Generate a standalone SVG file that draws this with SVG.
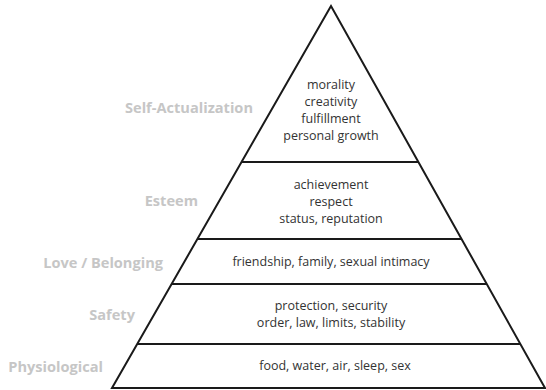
<svg xmlns="http://www.w3.org/2000/svg" width="546" height="390" viewBox="0 0 546 390">
<style>
.edge{fill:none;stroke:#1a1a1a;stroke-width:2;stroke-linejoin:miter}
.div{stroke:#1a1a1a;stroke-width:2}
.lbl{font-family:"Open Sans","Noto Sans",sans-serif;font-weight:bold;font-size:14.6px;fill:#c6c6c6;text-anchor:end}
.txt{font-family:"Open Sans","Noto Sans",sans-serif;font-size:12.5px;fill:#333;text-anchor:middle}
</style>
<rect width="546" height="390" fill="#fff"/>
<g id="connectors">
<polygon class="edge" points="331,6 112,388 545,388"/>
<line class="div" x1="241.6" y1="162" x2="418.4" y2="162"/>
<line class="div" x1="197.4" y1="239" x2="461.5" y2="239"/>
<line class="div" x1="171.6" y1="284" x2="486.7" y2="284"/>
<line class="div" x1="137.2" y1="344" x2="520.3" y2="344"/>
</g>
<g id="self-actualization">
<text class="lbl" x="253" y="112.5">Self-Actualization</text>
<text class="txt" x="331" y="89">morality</text>
<text class="txt" x="331" y="106">creativity</text>
<text class="txt" x="331" y="123">fulfillment</text>
<text class="txt" x="331" y="140">personal growth</text>
</g>
<g id="esteem">
<text class="lbl" x="198" y="205.5">Esteem</text>
<text class="txt" x="331" y="189">achievement</text>
<text class="txt" x="331" y="206">respect</text>
<text class="txt" x="331" y="223">status, reputation</text>
</g>
<g id="love-belonging">
<text class="lbl" x="163" y="267.5">Love / Belonging</text>
<text class="txt" x="331" y="266">friendship, family, sexual intimacy</text>
</g>
<g id="safety">
<text class="lbl" x="135" y="319.5">Safety</text>
<text class="txt" x="331" y="310">protection, security</text>
<text class="txt" x="331" y="327">order, law, limits, stability</text>
</g>
<g id="physiological">
<text class="lbl" x="103" y="371.5">Physiological</text>
<text class="txt" x="335" y="370">food, water, air, sleep, sex</text>
</g>
</svg>
